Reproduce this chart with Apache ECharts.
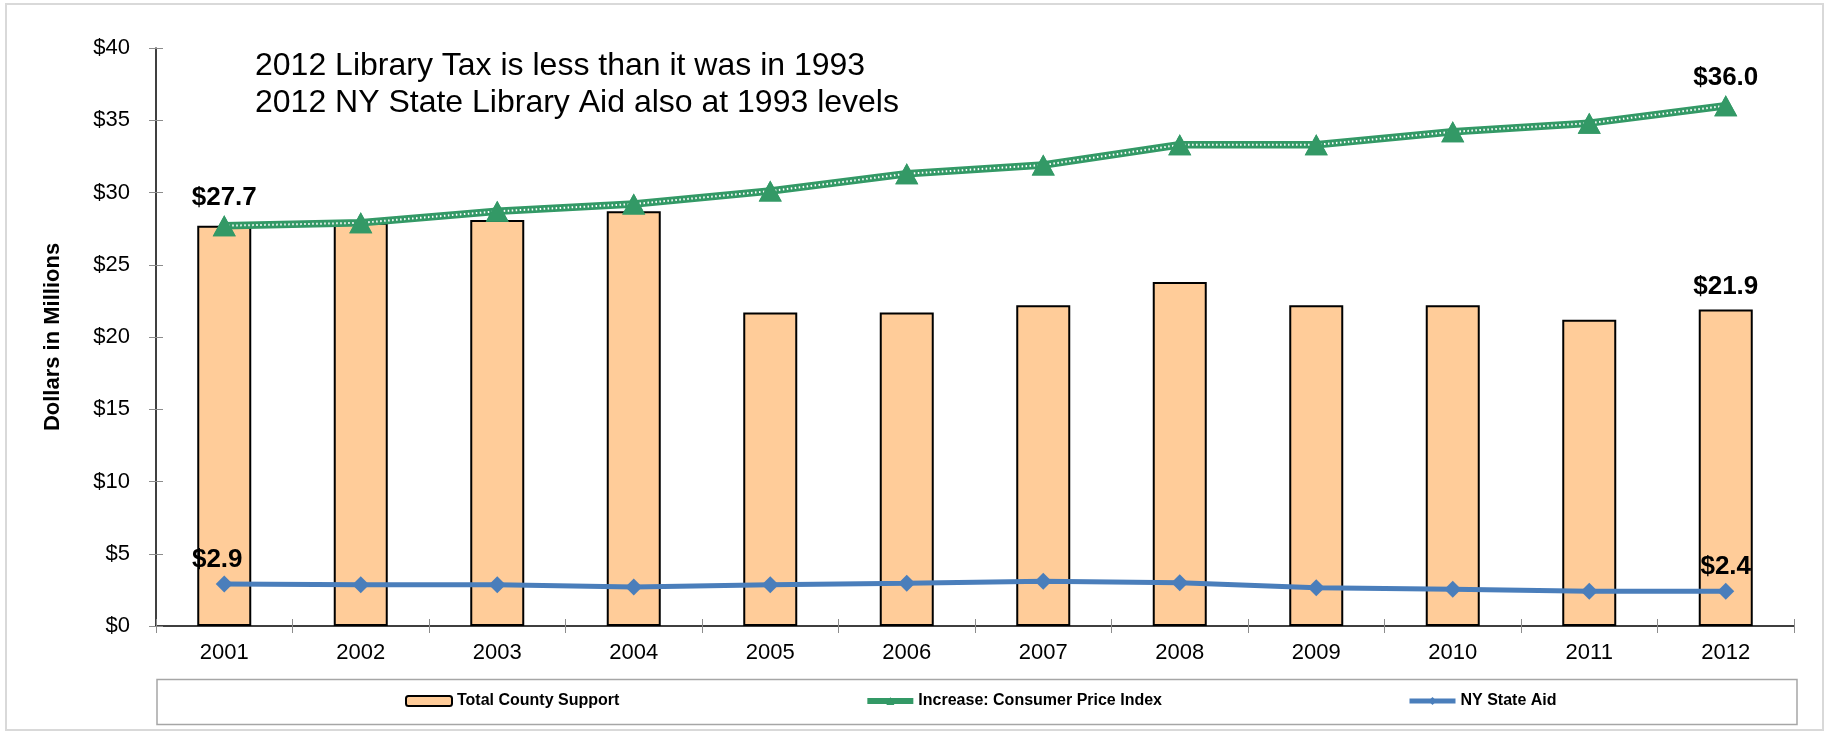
<!DOCTYPE html>
<html>
<head>
<meta charset="utf-8">
<script src="https://cdn.jsdelivr.net/npm/echarts@6/dist/echarts.min.js"></script>
<style>
html,body{margin:0;padding:0;background:#fff;}
#chart{width:1829px;height:735px;}
</style>
</head>
<body>
<div id="chart"></div>
<script>
const years = ['2001','2002','2003','2004','2005','2006','2007','2008','2009','2010','2011','2012'];
const countySupport = [27.7, 27.9, 28.1, 28.7, 21.7, 21.7, 22.2, 23.8, 22.2, 22.2, 21.2, 21.9];
const cpi = [27.7, 27.9, 28.7, 29.2, 30.1, 31.3, 31.9, 33.3, 33.3, 34.2, 34.8, 36.0];
const stateAid = [2.9, 2.85, 2.85, 2.7, 2.85, 2.95, 3.1, 3.0, 2.65, 2.55, 2.4, 2.4];
const yTicks = {min: 0, max: 40, interval: 5};
const noteLines = ['2012 Library Tax is less than it was in 1993', '2012 NY State Library Aid also at 1993 levels'];

const FONT = 'Arial, "Liberation Sans", sans-serif';
const last = years.length - 1;
const fmt = p => '$' + Number(p.value).toFixed(1);
function endLabels(arr, labelOpt, firstExtra) {
  return arr.map((v, i) => (i === 0 || i === last)
    ? {value: v, label: Object.assign({show: true}, labelOpt, i === 0 ? (firstExtra || {}) : {})}
    : v);
}
const labelStyle = {fontFamily: FONT, fontSize: 26, fontWeight: 'bold', color: '#000', formatter: fmt, position: 'top'};

const chart = echarts.init(document.getElementById('chart'));
chart.setOption({
  animation: false,
  backgroundColor: '#fff',
  textStyle: {fontFamily: FONT},
  grid: {left: 156, right: 35, top: 48, bottom: 109, containLabel: false},
  legend: {
    data: [
      {name: 'Total County Support'},
      {name: 'Increase: Consumer Price Index', lineStyle: {width: 6, color: '#339966'}},
      {name: 'NY State Aid', lineStyle: {width: 5, color: '#4A7EBB'}}
    ],
    left: 405, top: 693, padding: 0,
    itemGap: 245, itemWidth: 46, itemHeight: 10,
    textStyle: {fontFamily: FONT, fontSize: 16, fontWeight: 'bold', color: '#000'},
    selectedMode: false
  },
  graphic: [
    {type: 'rect', shape: {x: 6, y: 4, width: 1817, height: 726}, style: {fill: 'none', stroke: '#d9d9d9', lineWidth: 2}, silent: true, z: -10},
    {type: 'rect', shape: {x: 157, y: 679.5, width: 1640, height: 45}, style: {fill: 'none', stroke: '#a6a6a6', lineWidth: 1.5}, silent: true, z: -10},
    {type: 'text', left: 255, top: 50, style: {text: noteLines[0], font: '32px ' + FONT, fill: '#000'}, silent: true},
    {type: 'text', left: 255, top: 87, style: {text: noteLines[1], font: '32px ' + FONT, fill: '#000'}, silent: true}
  ],
  xAxis: [
    {
      type: 'category', data: years, position: 'bottom', boundaryGap: true,
      axisLine: {show: true, lineStyle: {color: '#000', width: 1.5}},
      axisTick: {show: true, inside: false, length: 7, lineStyle: {color: '#8c8c8c', width: 1}},
      axisLabel: {fontFamily: FONT, fontSize: 22, color: '#000', margin: 16},
      splitLine: {show: false}
    },
    {
      type: 'category', data: years, position: 'bottom', boundaryGap: true,
      axisLine: {show: false},
      axisTick: {show: true, inside: true, length: 7, lineStyle: {color: '#8c8c8c', width: 1}},
      axisLabel: {show: false},
      splitLine: {show: false}
    }
  ],
  yAxis: [
    {
      type: 'value', min: yTicks.min, max: yTicks.max, interval: yTicks.interval, position: 'left',
      name: 'Dollars in Millions', nameLocation: 'middle', nameGap: 92,
      nameTextStyle: {fontFamily: FONT, fontSize: 22, fontWeight: 'bold', color: '#000'},
      axisLine: {show: true, lineStyle: {color: '#000', width: 1.5}},
      axisTick: {show: true, inside: false, length: 7, lineStyle: {color: '#8c8c8c', width: 1}},
      axisLabel: {fontFamily: FONT, fontSize: 22, color: '#000', margin: 26, formatter: '${value}'},
      splitLine: {show: false}
    },
    {
      type: 'value', min: yTicks.min, max: yTicks.max, interval: yTicks.interval, position: 'left',
      axisLine: {show: false},
      axisTick: {show: true, inside: true, length: 7, lineStyle: {color: '#8c8c8c', width: 1}},
      axisLabel: {show: false},
      splitLine: {show: false}
    }
  ],
  series: [
    {
      name: 'Total County Support', type: 'bar', xAxisIndex: 0, yAxisIndex: 0,
      barWidth: 54,
      data: countySupport.map((v, i) => i === last ? {value: v, label: Object.assign({show: true, distance: 10}, labelStyle)} : v),
      itemStyle: {color: '#FFCC99', borderColor: '#000', borderWidth: 2},
      z: 2
    },
    {
      name: 'Increase: Consumer Price Index', type: 'line', xAxisIndex: 0, yAxisIndex: 0,
      data: cpi,
      symbol: 'triangle', symbolSize: [23, 21], showSymbol: true,
      lineStyle: {color: '#339966', width: 7.5},
      itemStyle: {color: '#339966'},
      z: 3
    },
    {
      name: 'Increase: Consumer Price Index', type: 'line', xAxisIndex: 0, yAxisIndex: 0,
      data: cpi,
      symbol: 'none',
      lineStyle: {color: '#ffffff', width: 2, type: [1.5, 2.5]},
      silent: true,
      z: 4
    },
    {
      name: 'Increase: Consumer Price Index', type: 'line', xAxisIndex: 0, yAxisIndex: 0,
      data: endLabels(cpi, Object.assign({distance: 4}, labelStyle)),
      symbol: 'triangle', symbolSize: [23, 21], showSymbol: true,
      lineStyle: {width: 0, opacity: 0},
      itemStyle: {color: '#339966'},
      z: 5
    },
    {
      name: 'NY State Aid', type: 'line', xAxisIndex: 0, yAxisIndex: 0,
      data: endLabels(stateAid, Object.assign({distance: 3}, labelStyle), {offset: [-7, 0]}),
      symbol: 'diamond', symbolSize: 17, showSymbol: true,
      lineStyle: {color: '#4A7EBB', width: 5},
      itemStyle: {color: '#4A7EBB'},
      z: 6
    }
  ]
});
</script>
</body>
</html>
